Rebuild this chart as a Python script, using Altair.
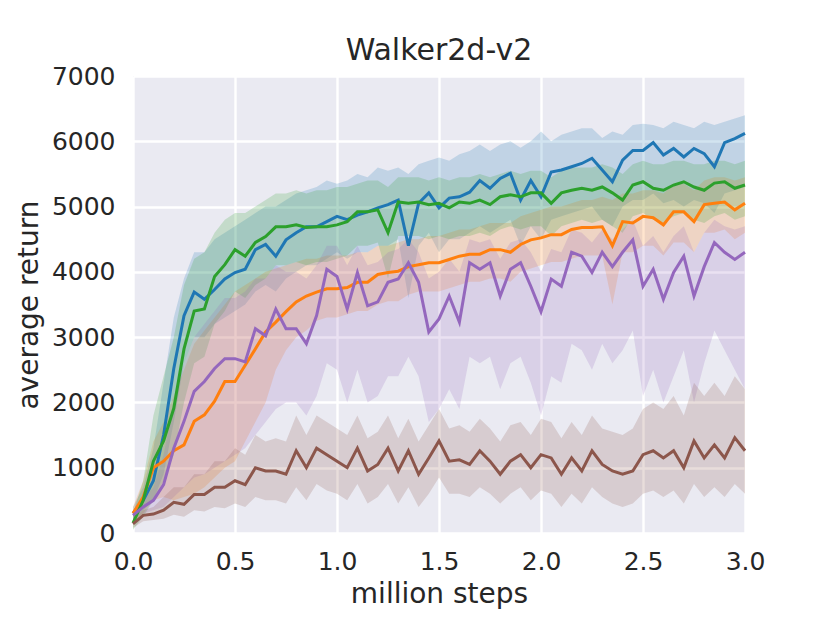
import altair as alt
import pandas as pd

steps = [round(i * 0.05, 2) for i in range(61)]

names = ["s1", "s2", "s3", "s4", "s5"]
colors = ["#1f77b4", "#ff7f0e", "#2ca02c", "#9467bd", "#8c564b"]

blue = [300, 500, 800, 1500, 2520, 3330, 3690, 3580, 3730, 3890, 3990, 4040, 4340, 4420, 4240, 4490,
        4600, 4690, 4690, 4770, 4850, 4800, 4870, 4920, 4980, 5030, 5100, 4400, 5050, 5210, 4980, 5130,
        5150, 5220, 5400, 5280, 5430, 5510, 5100, 5400, 5150, 5530, 5560, 5610, 5660, 5740, 5560, 5380,
        5710, 5860, 5860, 5980, 5790, 5890, 5760, 5890, 5810, 5610, 5980, 6040, 6120]
blue_lo = [200, 350, 500, 900, 1700, 2600, 3000, 3000, 3200, 3300, 3400, 3500, 3700, 3800, 3700, 3900,
           4000, 4100, 4100, 4200, 4300, 4200, 4300, 4300, 4400, 4400, 4500, 3600, 4400, 4600, 4300, 4500,
           4500, 4600, 4700, 4600, 4700, 4800, 4400, 4700, 4500, 4800, 4850, 4900, 4950, 5000, 4800, 4700,
           5000, 5100, 5100, 5200, 5050, 5100, 5000, 5100, 5050, 4900, 5200, 5250, 5300]
blue_hi = [400, 700, 1300, 2300, 3300, 3900, 4300, 4300, 4500, 4600, 4700, 4800, 4900, 5000, 5000, 5100,
           5200, 5250, 5300, 5400, 5350, 5400, 5500, 5450, 5600, 5550, 5600, 5500, 5650, 5700, 5750, 5700,
           5800, 5850, 5950, 5850, 5950, 6000, 5900, 6000, 6150, 6000, 6100, 6150, 6200, 6200, 6050, 6150,
           6100, 6250, 6270, 6250, 6200, 6300, 6250, 6200, 6300, 6250, 6300, 6350, 6400]

orange = [300, 550, 1000, 1100, 1260, 1350, 1710, 1810, 2020, 2320, 2320, 2570, 2820, 3080, 3230, 3390,
          3540, 3630, 3690, 3740, 3740, 3760, 3840, 3840, 3960, 3990, 4010, 4080, 4110, 4140, 4140, 4190,
          4240, 4270, 4270, 4340, 4340, 4300, 4420, 4490, 4520, 4570, 4570, 4650, 4680, 4680, 4690, 4400,
          4770, 4750, 4850, 4830, 4720, 4920, 4920, 4770, 5030, 5050, 5070, 4950, 5050]
orange_lo = [150, 300, 500, 550, 500, 550, 600, 700, 850, 1000, 1100, 1400, 1700, 2000, 2500, 2800,
             3000, 3100, 3250, 3300, 3300, 3350, 3400, 3400, 3500, 3550, 3550, 3650, 3700, 3700, 3700, 3750,
             3800, 3850, 3850, 3900, 3900, 3850, 4000, 4050, 4100, 4150, 4150, 4200, 4250, 4250, 4250, 3500,
             4300, 4300, 4400, 4400, 4250, 4450, 4450, 4300, 4600, 4600, 4650, 4500, 4600]
orange_hi = [400, 800, 1400, 1700, 2100, 2500, 2900, 3100, 3300, 3500, 3700, 3800, 3900, 4000, 4050, 4100,
             4150, 4200, 4200, 4250, 4250, 4250, 4300, 4300, 4400, 4400, 4450, 4500, 4500, 4550, 4550, 4600,
             4650, 4650, 4700, 4750, 4750, 4750, 4850, 4900, 4950, 5000, 5000, 5050, 5100, 5100, 5150, 5100,
             5200, 5200, 5250, 5250, 5200, 5350, 5350, 5250, 5400, 5450, 5450, 5400, 5450]

green = [150, 500, 1100, 1410, 1910, 2820, 3400, 3430, 3930, 4110, 4340, 4240, 4450, 4540, 4690, 4690,
         4720, 4680, 4690, 4690, 4720, 4770, 4920, 4920, 4950, 4600, 5070, 5050, 5070, 5030, 5050, 4980,
         5070, 5050, 5100, 5030, 5150, 5180, 5150, 5210, 5210, 5050, 5210, 5250, 5280, 5250, 5300, 5210,
         5100, 5330, 5380, 5280, 5250, 5330, 5380, 5300, 5250, 5360, 5380, 5280, 5330]
green_lo = [50, 250, 500, 800, 1200, 2000, 2600, 2700, 3200, 3400, 3700, 3600, 3800, 3900, 4100, 4100,
            4150, 4100, 4150, 4150, 4200, 4250, 4400, 4400, 4450, 3900, 4550, 4550, 4550, 4500, 4550, 4500,
            4550, 4550, 4600, 4550, 4650, 4700, 4650, 4700, 4700, 4550, 4700, 4750, 4800, 4750, 4800, 4700,
            4600, 4850, 4900, 4800, 4750, 4850, 4900, 4800, 4750, 4850, 4900, 4800, 4850]
green_hi = [300, 800, 1800, 2400, 3000, 3800, 4200, 4300, 4600, 4800, 4900, 4900, 5000, 5100, 5200, 5200,
            5250, 5200, 5250, 5250, 5300, 5300, 5350, 5400, 5400, 5300, 5450, 5450, 5450, 5400, 5450, 5400,
            5450, 5450, 5500, 5450, 5500, 5550, 5500, 5550, 5550, 5450, 5550, 5600, 5600, 5600, 5650, 5600,
            5500, 5650, 5700, 5650, 5650, 5700, 5700, 5650, 5650, 5700, 5700, 5650, 5700]

purple = [270, 400, 500, 740, 1300, 1710, 2170, 2320, 2520, 2670, 2670, 2620, 3130, 3020, 3430, 3130,
          3130, 2900, 3330, 4040, 3930, 3430, 3990, 3480, 3540, 3840, 3890, 4140, 3840, 3080, 3280, 3630,
          3230, 4140, 4040, 4140, 3630, 4040, 4140, 3780, 3390, 3890, 3780, 4300, 4240, 3990, 4300, 4080,
          4300, 4490, 3780, 4040, 3580, 3990, 4240, 3630, 4080, 4450, 4300, 4190, 4300]
purple_lo = [200, 300, 350, 400, 550, 700, 850, 900, 1000, 1100, 1200, 1300, 1500, 1700, 1900, 2000,
             2000, 1800, 2100, 2600, 2500, 2000, 2500, 2000, 2100, 2400, 2400, 2700, 2400, 1700, 1900, 2200,
             1900, 2700, 2600, 2700, 2200, 2600, 2700, 2300, 1800, 2400, 2300, 2900, 2800, 2500, 2900, 2600,
             2800, 3100, 2100, 2500, 2000, 2400, 2800, 2000, 2600, 3100, 2800, 2500, 2200]
purple_hi = [350, 500, 700, 1200, 2000, 2600, 3000, 3200, 3400, 3600, 3600, 3700, 3900, 3900, 4100, 4000,
             4000, 3900, 4100, 4400, 4400, 4100, 4400, 4100, 4150, 4300, 4350, 4500, 4300, 3900, 4000, 4200,
             4000, 4500, 4450, 4500, 4200, 4450, 4500, 4300, 4000, 4350, 4300, 4650, 4600, 4450, 4650, 4500,
             4650, 4800, 4400, 4550, 4300, 4550, 4700, 4300, 4600, 4800, 4700, 4650, 4700]

brown = [140, 270, 290, 350, 470, 440, 590, 590, 700, 700, 800, 740, 1000, 950, 950, 900,
         1260, 1000, 1300, 1200, 1100, 1000, 1300, 950, 1050, 1300, 950, 1260, 900, 1150, 1410, 1100,
         1120, 1050, 1260, 1100, 900, 1100, 1200, 1000, 1200, 1150, 900, 1150, 950, 1260, 1050, 950,
         900, 950, 1200, 1260, 1150, 1260, 1000, 1410, 1150, 1350, 1150, 1460, 1260]
brown_lo = [80, 180, 200, 220, 280, 250, 350, 330, 400, 380, 450, 400, 550, 500, 500, 450,
            700, 500, 750, 650, 600, 500, 750, 450, 550, 750, 450, 700, 400, 600, 850, 600,
            600, 550, 700, 600, 450, 600, 700, 500, 650, 600, 400, 600, 450, 700, 550, 450,
            400, 450, 600, 650, 550, 650, 450, 750, 550, 700, 550, 750, 600]
brown_hi = [200, 350, 400, 550, 700, 700, 900, 900, 1100, 1100, 1300, 1200, 1500, 1400, 1450, 1400,
            1800, 1500, 1800, 1700, 1600, 1500, 1800, 1450, 1550, 1800, 1450, 1750, 1400, 1650, 1900, 1600,
            1650, 1550, 1750, 1600, 1400, 1650, 1700, 1500, 1750, 1700, 1450, 1700, 1500, 1800, 1600, 1550,
            1500, 1600, 1900, 2000, 1900, 2100, 1800, 2300, 2100, 2300, 2100, 2400, 2200]

series = [
    (blue, blue_lo, blue_hi),
    (orange, orange_lo, orange_hi),
    (green, green_lo, green_hi),
    (purple, purple_lo, purple_hi),
    (brown, brown_lo, brown_hi),
]

rows = []
for k, (name, (mid, lo, hi)) in enumerate(zip(names, series)):
    for i, x in enumerate(steps):
        rows.append({"x": x, "y": mid[i], "lo": lo[i], "hi": hi[i], "series": name, "order": k})
df = pd.DataFrame(rows)

x_ticks = [0.0, 0.5, 1.0, 1.5, 2.0, 2.5, 3.0]
y_ticks = [0, 1000, 2000, 3000, 4000, 5000, 6000, 7000]

color_scale = alt.Scale(domain=names, range=colors)
xs = alt.Scale(domain=[0, 3], nice=False)
ys = alt.Scale(domain=[0, 7000], nice=False)

x_axis = alt.Axis(values=x_ticks, format=".1f", title="million steps", titleY=69,
                  titleBaseline="alphabetic", labelPadding=16, labelFlush=False)
y_axis = alt.Axis(values=y_ticks, format="d", title="average return", titleX=-96,
                  titleBaseline="alphabetic", labelPadding=18, labelFlush=False)

base = alt.Chart(df)

bands = base.mark_area(opacity=0.2, interpolate="linear").encode(
    x=alt.X("x:Q", scale=xs, axis=x_axis),
    y=alt.Y("lo:Q", scale=ys, axis=y_axis),
    y2="hi:Q",
    color=alt.Color("series:N", scale=color_scale, legend=None),
    detail="series:N",
)

lines = base.mark_line(strokeWidth=3).encode(
    x=alt.X("x:Q", scale=xs),
    y=alt.Y("y:Q", scale=ys),
    color=alt.Color("series:N", scale=color_scale, legend=None),
    order=alt.Order("x:Q"),
)

line_layers = [
    lines.transform_filter(alt.datum.series == n) for n in names
]

chart = alt.layer(bands, *line_layers).properties(
    width=612,
    height=457,
    title=alt.TitleParams("Walker2d-v2", fontSize=30, fontWeight="normal", font="DejaVu Sans",
                          color="#262626", baseline="alphabetic", offset=15, anchor="middle",
                          frame="group", dy=41),
    padding={"left": 125, "top": 68, "right": 60, "bottom": 79},
    autosize="none",
    background="white",
).configure_view(
    fill="#EAEAF2", stroke=None
).configure_axis(
    domain=False, ticks=False, grid=True, gridColor="white", gridWidth=2.4, gridOpacity=1,
    labelFont="DejaVu Sans", labelFontSize=25, labelColor="#262626",
    titleFont="DejaVu Sans", titleFontSize=28, titleColor="#262626", titleFontWeight="normal",
)

chart.save("out.html", embed_options={"renderer": "svg", "actions": False})
